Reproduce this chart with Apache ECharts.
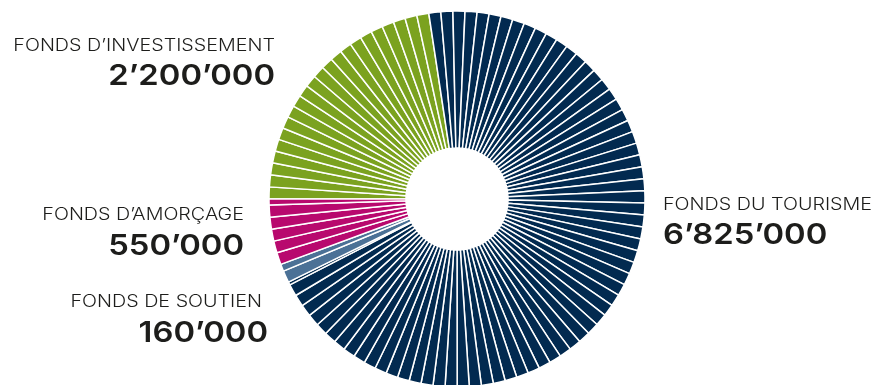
<!DOCTYPE html>
<html>
<head>
<meta charset="utf-8">
<script src="https://cdn.jsdelivr.net/npm/echarts@6/dist/echarts.min.js"></script>
<style>
  html, body { margin: 0; padding: 0; background: #ffffff; }
  #chart { width: 879px; height: 385px; }
</style>
</head>
<body>
<div id="chart"></div>
<script>
// Funds, in clockwise order starting at 9 o'clock
const funds = ['FONDS D’INVESTISSEMENT', 'FONDS DU TOURISME', 'FONDS DE SOUTIEN', 'FONDS D’AMORÇAGE'];
const amounts = [2200000, 6825000, 160000, 550000];
const colors = ['#7ba21f', '#022a50', '#4b7196', '#b8096e'];
// Each ring segment stands for this many francs
const segmentSize = 100000;

// Label anchors: [captionX, captionY, numberX, numberY, align]
const labelPos = [
  [275, 46, 275, 76, 'right'],
  [663, 205, 663, 235, 'left'],
  [262, 302, 268, 333, 'right'],
  [244, 215, 244, 246, 'right']
];

function fmt(n) {
  return String(n).replace(/\B(?=(\d{3})+(?!\d))/g, '’');
}

// Split every fund into equal segments (last one takes the remainder)
const ringData = [];
amounts.forEach((total, i) => {
  let left = total;
  while (left > 0) {
    const v = Math.min(segmentSize, left);
    ringData.push({ value: v, name: funds[i], itemStyle: { color: colors[i] } });
    left -= v;
  }
});

// Wide geometric look: stretch the glyphs horizontally a little
const texts = [];
funds.forEach((f, i) => {
  const [xc, yc, xn, yn, align] = labelPos[i];
  texts.push({
    type: 'text', x: xc, y: yc, scaleX: 1.16,
    style: { text: f, x: 0, y: 0, align: align, verticalAlign: 'middle', fill: '#1d1d1b',
      font: '300 17px Inter, "Open Sans", sans-serif' }
  });
  texts.push({
    type: 'text', x: xn, y: yn, scaleX: 1.13,
    style: { text: fmt(amounts[i]), x: 0, y: 0, align: align, verticalAlign: 'middle', fill: '#1d1d1b',
      font: '600 29px Inter, "Open Sans", sans-serif' }
  });
});

const chart = echarts.init(document.getElementById('chart'), null, { renderer: 'canvas' });
chart.setOption({
  animation: false,
  series: [{
    type: 'pie',
    center: [457, 199],
    radius: [51, 188],
    startAngle: 180,
    clockwise: true,
    avoidLabelOverlap: false,
    label: { show: false },
    labelLine: { show: false },
    emphasis: { disabled: true },
    itemStyle: { borderColor: '#ffffff', borderWidth: 1.5 },
    data: ringData
  }],
  graphic: texts
});
</script>
</body>
</html>
